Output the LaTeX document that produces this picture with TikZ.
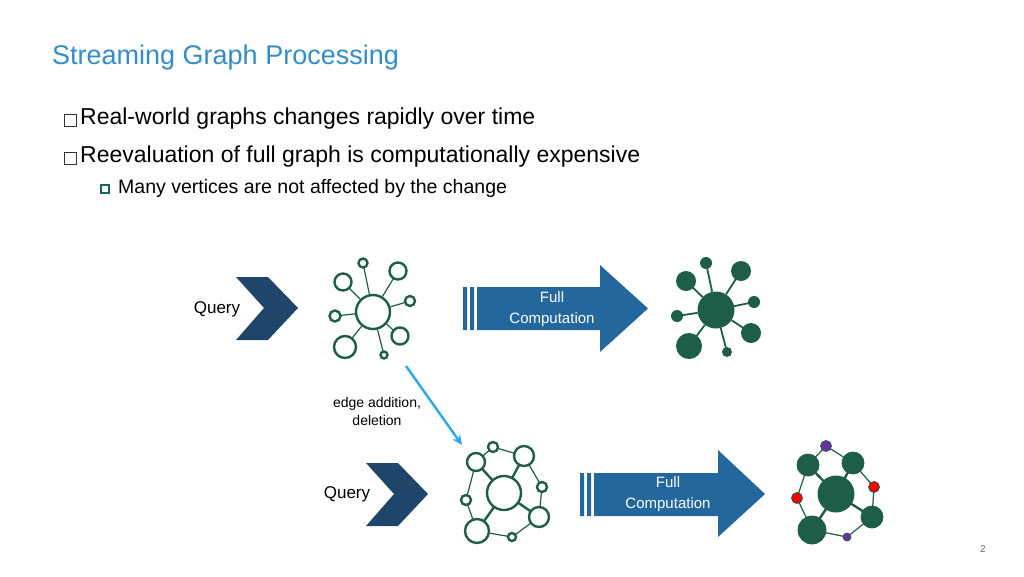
\documentclass[tikz,border=0pt]{standalone}
\usepackage{fontspec}
\setmainfont{Liberation Sans}
\usetikzlibrary{arrows.meta}
\definecolor{titleblue}{RGB}{52,140,200}
\definecolor{navy}{RGB}{31,69,106}
\definecolor{arrowblue}{RGB}{36,103,157}
\definecolor{gnode}{RGB}{30,94,72}
\definecolor{cyanarrow}{RGB}{41,171,226}
\definecolor{vpurple}{RGB}{112,48,160}
\tikzstyle{ov}=[circle,draw=gnode,line width=2.4pt,fill=white,inner sep=0pt]
\tikzstyle{fv}=[circle,fill=gnode,inner sep=0pt]
\tikzstyle{ge}=[draw=gnode,line width=1.2pt]
\tikzstyle{gt}=[draw=gnode,line width=2.4pt]
\tikzstyle{txt}=[anchor=west,inner sep=0pt]
\begin{document}
\begin{tikzpicture}[x=1pt,y=-1pt]
\useasboundingbox (0,0) rectangle (1024,576);
\node[txt,text=titleblue,font=\fontsize{27}{30}\selectfont] (title) at (52,58) {Streaming Graph Processing};
\node[draw=black!80,line width=1pt,minimum size=12pt,inner sep=0pt] (b1) at (70,120) {};
\node[txt,font=\fontsize{23}{26}\selectfont] at (80,119) {Real-world graphs changes rapidly over time};
\node[draw=black!80,line width=1pt,minimum size=12pt,inner sep=0pt] (b2) at (70,158) {};
\node[txt,font=\fontsize{23}{26}\selectfont] at (80,157) {Reevaluation of full graph is computationally expensive};
\node[draw=gnode!70!teal,line width=1.2pt,minimum size=8pt,inner sep=0pt] (b3) at (105,189) {};
\node[txt,font=\fontsize{19.5}{22}\selectfont] at (118,188) {Many vertices are not affected by the change};
\node[font=\fontsize{10}{12}\selectfont,text=black!60] at (983,549) {2};

% query chevrons
\fill[navy] (236,277) -- (268,277) -- (298,308) -- (268,340) -- (236,340) -- (264,308) -- cycle;
\node[font=\fontsize{17}{20}\selectfont] (q1) at (217,309) {Query};
\fill[navy] (366,463) -- (398,463) -- (428,494) -- (398,526) -- (366,526) -- (394,494) -- cycle;
\node[font=\fontsize{17}{20}\selectfont] (q2) at (347,494) {Query};

% full computation arrows
\fill[arrowblue] (463,287) rectangle (467,330) (470,287) rectangle (474,330);
\fill[arrowblue] (477,287) -- (600,287) -- (600,265) -- (648,308.5) -- (600,352) -- (600,330) -- (477,330) -- cycle;
\node[align=center,text=white,font=\fontsize{15}{21}\selectfont] (fc1) at (552,309) {Full\\Computation};
\fill[arrowblue] (580,473) rectangle (584,516) (587,473) rectangle (591,516);
\fill[arrowblue] (594,473) -- (718,473) -- (718,450) -- (765,494) -- (718,537) -- (718,516) -- (594,516) -- cycle;
\node[align=center,text=white,font=\fontsize{15}{21}\selectfont] (fc2) at (668,494) {Full\\Computation};

% graph before
\node[ov,minimum size=34pt] (c1) at (373,312) {};
\foreach \n/\x/\y/\r in {a/343/282/17,b/363/263/9,c/398/271/17,d/410/301/10,e/400/336/17,f/384/355/7,g/345/347/22,h/335/316/11}{
  \draw[ge] (c1) -- (\x,\y);
  \node[ov,minimum size=\r pt] (c1\n) at (\x,\y) {};
}
% graph after
\node[fv,minimum size=37pt] (c2) at (716,310) {};
\foreach \n/\x/\y/\r in {a/686/281/20,b/706/263/12,c/741/271/20,d/754/302/12,e/751/333/20,f/727/352/10,g/689/346/26,h/677/316/12}{
  \draw[ge,line width=1.8pt] (c2) -- (\x,\y);
  \node[fv,minimum size=\r pt] (c2\n) at (\x,\y) {};
}

% change
\node[align=center,font=\fontsize{14}{18}\selectfont] (chg) at (377,411) {edge addition,\\deletion};
\coordinate (chs) at (406,366);
\coordinate (che) at (462,445);
\draw[cyanarrow,line width=2.4pt,-{Stealth[length=10pt,width=9pt]}] (chs) -- (che);

% updated graph
\coordinate (c3) at (504,493);
\foreach \n/\x/\y in {a/476/462,b/493/447,c/524/456,d/542/487,e/539/517,f/512/537,g/477/531,h/466/500}{
  \coordinate (c3\n) at (\x,\y);
}
\draw[gt] (c3) -- (c3a) (c3) -- (c3c) (c3) -- (c3e) (c3) -- (c3g);
\draw[ge] (c3a) -- (c3b) -- (c3c) -- (c3d) -- (c3e) -- (c3f) -- (c3g) -- (c3h) -- cycle;
\node[ov,minimum size=34pt] at (c3) {};
\foreach \n/\r in {a/18,b/10,c/20,d/10,e/20,f/8,g/24,h/10}{
  \node[ov,minimum size=\r pt] at (c3\n) {};
}
% updated result
\coordinate (c4) at (836,494);
\foreach \n/\x/\y in {a/808/465,b/826/446,c/853/463,d/874/487,e/872/517,f/847/537,g/812/530,h/797/498}{
  \coordinate (c4\n) at (\x,\y);
}
\draw[gt] (c4) -- (c4a) (c4) -- (c4c) (c4) -- (c4e) (c4) -- (c4g);
\draw[ge] (c4a) -- (c4b) -- (c4c) -- (c4d) -- (c4e) -- (c4f) -- (c4g) -- (c4h) -- cycle;
\node[fv,minimum size=37pt] at (c4) {};
\foreach \n/\r/\c in {a/22/gnode,b/11/vpurple,c/22/gnode,d/11/red,e/22/gnode,f/8/vpurple,g/28/gnode,h/11/red}{
  \node[fv,fill=\c,draw=gnode,line width=0.8pt,minimum size=\r pt] at (c4\n) {};
}
\end{tikzpicture}
\end{document}
